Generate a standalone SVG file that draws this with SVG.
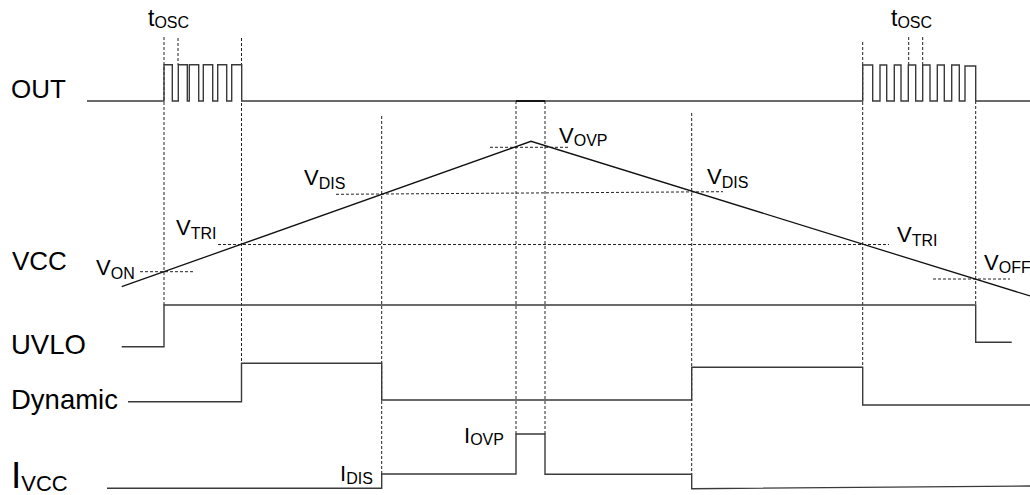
<svg xmlns="http://www.w3.org/2000/svg" width="1030" height="495" viewBox="0 0 1030 495">
<style>
.wave{fill:none;stroke:#3a3a3a;stroke-width:1.4}
.ramp{fill:none;stroke:#111;stroke-width:1.3}
.dash{fill:none;stroke:#222;stroke-width:1;stroke-dasharray:3,2}
text{font-family:"Liberation Sans",Arial,sans-serif;fill:#000}
.big{font-size:26px}
.big2{font-size:27.5px}
.lbl{font-size:22px}
.sub{font-size:16px}
</style>
<rect width="1030" height="495" fill="#fff"/>
<g id="connectors">
<path class="dash" d="M164,37V305M178,38V64.7M241.5,38V401.7M381.7,116V474M516,101V434M545,101V434M691.7,113V474M862.7,42V367M908.7,37V65M922.7,37V65M975.7,101V305"/>
<path class="dash" d="M140,271.7H193M218,244.5H889M336,194.3L723,191.7M490,147.3H570M933,279H1010"/>
</g>
<g id="OUT">
<text class="big" x="11" y="98">OUT</text>
<path class="wave" d="M87,101H164V64.7H172.3V101H178.3V64.7H187.3V101H189.3V64.7H198.7V101H203.3V64.7H212.7V101H217.7V64.7H226.7V101H231.7V64.7H241.7V101H862.7V65H872.7V101H880V65H886.7V101H894.3V65H901V101H908.3V65H915.7V101H922.7V65H930V101H937.3V65H944.3V101H951.7V65H959.3V101H965V66H975.7V101H1030"/>
<path d="M516,101H545" stroke="#000" stroke-width="1.6"/>
<text x="148" y="26" style="font-size:23px">t<tspan class="sub" dy="2">OSC</tspan></text>
<text x="891" y="26" style="font-size:23px">t<tspan class="sub" dy="2">OSC</tspan></text>
</g>
<g id="VCC">
<text class="big" x="12" y="270">VCC</text>
<path class="ramp" d="M121.7,286.7L531,141.3L1030,296"/>
<text class="lbl" x="96" y="275">V<tspan class="sub" dy="4">ON</tspan></text>
<text class="lbl" x="176" y="235">V<tspan class="sub" dy="4">TRI</tspan></text>
<text class="lbl" x="304" y="185">V<tspan class="sub" dy="4">DIS</tspan></text>
<text class="lbl" x="559" y="142.5">V<tspan class="sub" dy="3.5">OVP</tspan></text>
<text class="lbl" x="707" y="184">V<tspan class="sub" dy="4">DIS</tspan></text>
<text class="lbl" x="897" y="241.5">V<tspan class="sub" dy="4">TRI</tspan></text>
<text class="lbl" x="984" y="270">V<tspan class="sub" dy="3">OFF</tspan></text>
</g>
<g id="UVLO">
<text class="big2" x="11" y="354">UVLO</text>
<path class="wave" d="M121.7,346.7H164V305H975.7V342.3H1011.7"/>
</g>
<g id="Dynamic">
<text class="big2" x="11" y="409">Dynamic</text>
<path class="wave" d="M128,401.7H241.5V363.3H381.7V400H691.7V367.3H862.7V405H1030"/>
</g>
<g id="IVCC">
<text x="11" y="488" style="font-size:37px">I<tspan style="font-size:22px" dy="3">VCC</tspan></text>
<path class="wave" d="M107,488.3H381.7V474H516V434H545V474.3H691.7V488.7L1030,486"/>
<text class="lbl" x="340" y="481">I<tspan class="sub" dy="3">DIS</tspan></text>
<text class="lbl" x="464" y="443">I<tspan class="sub" dy="2">OVP</tspan></text>
</g>
</svg>
